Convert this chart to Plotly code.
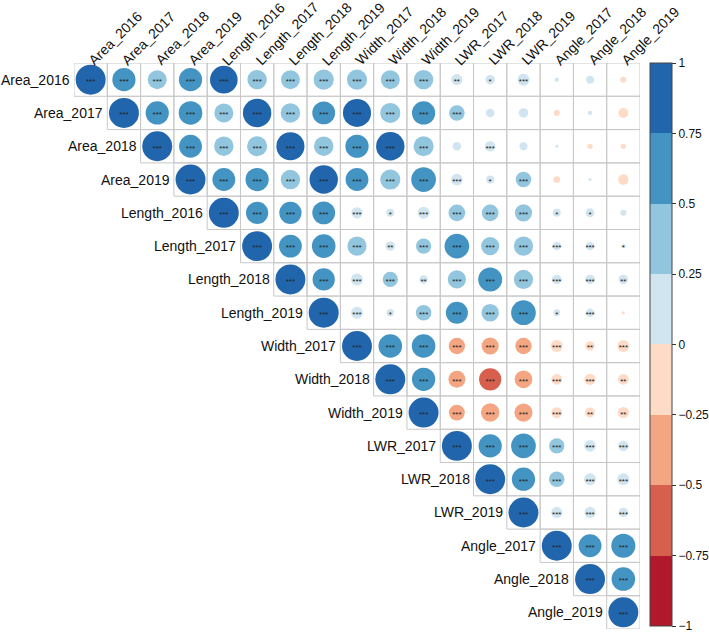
import plotly.graph_objects as go

variables = ["Area_2016", "Area_2017", "Area_2018", "Area_2019",
             "Length_2016", "Length_2017", "Length_2018", "Length_2019",
             "Width_2017", "Width_2018", "Width_2019",
             "LWR_2017", "LWR_2018", "LWR_2019",
             "Angle_2017", "Angle_2018", "Angle_2019"]

# upper triangle: row i holds correlations with columns i..16
corr_rows = [
    [1, 0.60, 0.40, 0.60, 0.85, 0.42, 0.40, 0.45, 0.45, 0.40, 0.42, 0.14, 0.10, 0.16, 0.02, 0.07, -0.04],
    [1, 0.60, 0.62, 0.40, 0.90, 0.42, 0.58, 0.88, 0.45, 0.60, 0.27, 0.08, 0.10, -0.04, 0.02, -0.11],
    [1, 0.58, 0.42, 0.45, 0.88, 0.42, 0.60, 0.90, 0.45, 0.08, 0.12, 0.07, 0.01, -0.03, -0.03],
    [1, 0.58, 0.60, 0.42, 0.90, 0.58, 0.45, 0.68, 0.15, 0.07, 0.27, -0.05, 0.01, -0.12],
    [1, 0.55, 0.55, 0.58, 0.14, 0.07, 0.16, 0.31, 0.31, 0.33, 0.07, 0.09, 0.04],
    [1, 0.58, 0.62, 0.41, 0.10, 0.26, 0.68, 0.37, 0.41, 0.08, 0.08, 0.02],
    [1, 0.55, 0.16, 0.26, 0.08, 0.37, 0.64, 0.41, 0.10, 0.10, 0.10],
    [1, 0.16, 0.06, 0.27, 0.54, 0.34, 0.68, 0.05, 0.08, -0.01],
    [1, 0.62, 0.62, -0.30, -0.33, -0.30, -0.16, -0.10, -0.16],
    [1, 0.60, -0.32, -0.55, -0.35, -0.13, -0.14, -0.13],
    [1, -0.28, -0.38, -0.37, -0.13, -0.11, -0.14],
    [1, 0.60, 0.68, 0.26, 0.15, 0.12],
    [1, 0.60, 0.27, 0.16, 0.16],
    [1, 0.14, 0.14, 0.10],
    [1, 0.58, 0.65],
    [1, 0.62],
    [1],
]

sig_rows = [
    ["***"] * 11 + ["**", "*", "***", "", "", ""],
    ["***"] * 11 + ["", "", "", "", ""],
    ["***"] * 9 + ["", "***", "", "", "", ""],
    ["***"] * 9 + ["*", "***", "", "", ""],
    ["***"] * 5 + ["*", "***", "***", "***", "***", "*", "*", ""],
    ["***"] * 4 + ["**", "***", "***", "***", "***", "***", "***", "*"],
    ["***"] * 4 + ["**", "***", "***", "***", "***", "***", "**"],
    ["***", "***", "*", "***", "***", "***", "***", "*", "***", ""],
    ["***"] * 7 + ["**", "***"],
    ["***"] * 7 + ["**"],
    ["***"] * 5 + ["**", "**"],
    ["***"] * 6,
    ["***"] * 5,
    ["***"] * 4,
    ["***"] * 3,
    ["***"] * 2,
    ["***"],
]

bin_colors = ["#B2182B", "#D6604D", "#F4A582", "#FDDBC7",
              "#D1E5F0", "#92C5DE", "#4393C3", "#2166AC"]
cbar_ticks = [-1, -0.75, -0.5, -0.25, 0, 0.25, 0.5, 0.75, 1]

n = len(variables)
W, H = 709, 634
ml, mr, mt, mb = 74, 69, 63, 5
pw, ph = W - ml - mr, H - mt - mb
cell = pw / n

colorscale = []
for k, c in enumerate(bin_colors):
    colorscale.append([k / len(bin_colors), c])
    colorscale.append([(k + 1) / len(bin_colors), c])

xs, ys, vals, sizes, stars = [], [], [], [], []
for i, row in enumerate(corr_rows):
    for k, v in enumerate(row):
        j = i + k
        xs.append(j + 1)
        ys.append(i + 1)
        vals.append(v)
        sizes.append(0.9 * abs(v) ** 0.5 * cell)
        stars.append(sig_rows[i][k])

fig = go.Figure()

fig.add_trace(go.Scatter(
    x=xs, y=ys, mode="markers",
    marker=dict(size=sizes, color=vals, colorscale=colorscale, cmin=-1, cmax=1,
                opacity=1, line=dict(width=0),
                colorbar=dict(x=(650 - ml) / pw, xanchor="left", xpad=0,
                              y=1, yanchor="top", ypad=0,
                              len=563 / ph, lenmode="fraction",
                              thickness=22, outlinewidth=1, outlinecolor="#444",
                              tickvals=cbar_ticks, ticks="outside", ticklen=4,
                              tickcolor="#333",
                              tickfont=dict(family="Liberation Sans, Arial", size=12, color="#111"))),
    hoverinfo="skip", showlegend=False))

fig.add_trace(go.Scatter(
    x=xs, y=[y + 0.07 for y in ys], mode="text", text=stars,
    textfont=dict(family="Liberation Sans, Arial", size=8, color="#222"),
    hoverinfo="skip", showlegend=False))

shapes = []
for i in range(n):
    for j in range(i, n):
        shapes.append(dict(type="rect", xref="x", yref="y",
                           x0=j + 0.5, x1=j + 1.5, y0=i + 0.5, y1=i + 1.5,
                           line=dict(color="#c8c8c8", width=1), layer="below"))

annotations = []
for i, name in enumerate(variables):
    annotations.append(dict(x=i + 0.5, y=i + 1, xref="x", yref="y", text=name,
                            showarrow=False, xanchor="right", yanchor="middle", xshift=-2,
                            font=dict(family="Liberation Sans, Arial", size=14, color="#111")))
    annotations.append(dict(x=i + 1, y=0.5, xref="x", yref="y", text=name,
                            showarrow=False, xanchor="left", yanchor="bottom",
                            textangle=-45, xshift=-8, yshift=-8,
                            font=dict(family="Liberation Sans, Arial", size=14, color="#111")))

fig.update_layout(
    width=W, height=H, margin=dict(l=ml, r=mr, t=mt, b=mb, autoexpand=False),
    plot_bgcolor="white", paper_bgcolor="white",
    xaxis=dict(range=[0.5, n + 0.5], visible=False, fixedrange=True),
    yaxis=dict(range=[n + 0.5, 0.5], visible=False, fixedrange=True),
    shapes=shapes, annotations=annotations,
)

fig.write_html("out.html", config={"displayModeBar": False},
               post_script="document.body.style.margin='0';document.body.style.overflow='hidden';")
